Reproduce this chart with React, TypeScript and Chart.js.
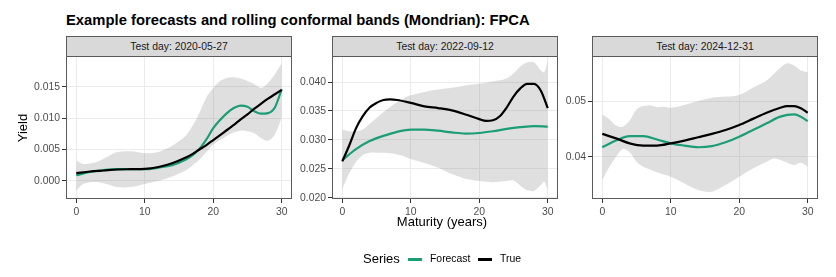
import React, { useEffect, useRef } from "react";
import { Chart, registerables } from "chart.js";

Chart.register(...registerables);

// ---------------- DATA ----------------
const chartTitle = "Example forecasts and rolling conformal bands (Mondrian): FPCA";
const panelTitles = ["Test day: 2020-05-27", "Test day: 2022-09-12", "Test day: 2024-12-31"];
const xTitle = "Maturity (years)";
const yTitle = "Yield";
const legendTitle = "Series";
const seriesNames = ["Forecast", "True"];

const xTicks = [0, 10, 20, 30];
const xTickLabels = ["0", "10", "20", "30"];

// Panel 1: 2020-05-27
const p1LineMat = [0, 2, 4, 6, 8, 10, 12, 14, 16, 17, 18, 19, 20, 21, 22, 23, 24, 25, 26, 27, 28, 29, 30];
const p1True = [0.00122, 0.00148, 0.00164, 0.0018, 0.00185, 0.0019, 0.0022, 0.0028, 0.0037, 0.0043, 0.005, 0.0057, 0.0065, 0.0073, 0.0081, 0.0089, 0.0098, 0.0106, 0.0115, 0.0123, 0.0131, 0.0138, 0.0145];
const p1Forecast = [0.0009, 0.0014, 0.0017, 0.00185, 0.00185, 0.00185, 0.0021, 0.0025, 0.0034, 0.0041, 0.0051, 0.0066, 0.0084, 0.0097, 0.0108, 0.0116, 0.012, 0.0118, 0.0111, 0.0107, 0.0108, 0.0117, 0.0146];
const p1BandMat = [0, 1, 3, 5, 6, 8, 10, 12, 14, 16, 17, 18, 19, 20, 21, 22, 23, 24, 25, 26, 27, 28, 29, 30];
const p1Upper = [0.0032, 0.0027, 0.003, 0.0041, 0.0046, 0.0047, 0.0044, 0.0046, 0.0056, 0.0072, 0.0088, 0.0109, 0.0133, 0.0148, 0.0159, 0.0164, 0.0165, 0.0163, 0.0159, 0.0154, 0.0148, 0.0156, 0.017, 0.0188];
const p1Lower = [-0.0016, -0.0005, -0.0002, -0.0007, -0.001, -0.001, -0.0005, 0.0, 0.0007, 0.0017, 0.0025, 0.0034, 0.0046, 0.0058, 0.0065, 0.0072, 0.0077, 0.008, 0.0079, 0.0076, 0.0068, 0.0064, 0.0074, 0.0101];
const p1YTicks = [0, 0.005, 0.01, 0.015];
const p1YTickLabels = ["0.000", "0.005", "0.010", "0.015"];
const p1YRange = [-0.0029, 0.0199];

// Panel 2: 2022-09-12
const p2TrueMat = [0, 1, 2, 3, 4, 5, 6, 7, 8, 10, 12, 14, 16, 18, 20, 21, 22, 23, 24, 25, 26, 27, 28, 29, 30];
const p2True = [0.0263, 0.029, 0.032, 0.0341, 0.0356, 0.0364, 0.0369, 0.037, 0.0369, 0.0364, 0.0358, 0.0355, 0.0351, 0.0344, 0.0336, 0.0333, 0.0334, 0.0341, 0.0356, 0.0375, 0.0389, 0.0397, 0.0397, 0.0385, 0.0355];
const p2ForecastMat = [0, 2, 4, 6, 8, 10, 12, 14, 16, 18, 20, 22, 24, 26, 28, 30];
const p2Forecast = [0.0265, 0.0284, 0.0298, 0.0307, 0.0314, 0.0318, 0.0318, 0.0316, 0.0313, 0.0311, 0.0312, 0.0315, 0.0319, 0.0322, 0.0324, 0.0323];
const p2BandMat = [0, 1, 2, 3, 4, 5, 6, 7, 8, 9, 10, 12, 14, 16, 18, 20, 22, 24, 25, 26, 27, 28, 29, 29.5, 30];
const p2Upper = [0.0318, 0.0315, 0.0315, 0.0318, 0.0328, 0.0338, 0.0348, 0.0357, 0.0365, 0.0372, 0.0377, 0.0383, 0.0387, 0.039, 0.0394, 0.0397, 0.0401, 0.0406, 0.0415, 0.0427, 0.0434, 0.0434, 0.042, 0.0417, 0.0436];
const p2Lower = [0.0215, 0.0242, 0.0262, 0.0274, 0.0278, 0.0278, 0.0278, 0.0277, 0.0275, 0.0272, 0.0267, 0.026, 0.0252, 0.0241, 0.0233, 0.0229, 0.0227, 0.0229, 0.023, 0.0221, 0.0213, 0.0212, 0.0222, 0.0228, 0.0213];
const p2YTicks = [0.02, 0.025, 0.03, 0.035, 0.04];
const p2YTickLabels = ["0.020", "0.025", "0.030", "0.035", "0.040"];
const p2YRange = [0.0198, 0.0445];

// Panel 3: 2024-12-31
const p3TrueMat = [0, 2, 4, 6, 8, 10, 12, 14, 16, 18, 20, 22, 24, 26, 27, 28, 29, 30];
const p3True = [0.0441, 0.0433, 0.0424, 0.042, 0.042, 0.0424, 0.0429, 0.0435, 0.0441, 0.0448, 0.0457, 0.0468, 0.0479, 0.0488, 0.0491, 0.0491, 0.0487, 0.0479];
const p3ForecastMat = [0, 2, 4, 6, 8, 10, 12, 14, 16, 18, 20, 22, 24, 26, 28, 29, 30];
const p3Forecast = [0.0417, 0.0429, 0.0437, 0.0437, 0.0431, 0.0424, 0.042, 0.0417, 0.0419, 0.0426, 0.0436, 0.0448, 0.046, 0.0472, 0.0476, 0.0472, 0.0464];
const p3BandMat = [0, 1, 2, 3, 4, 5, 6, 7, 8, 9, 10, 12, 14, 16, 18, 20, 22, 24, 25, 26, 27, 28, 29, 30];
const p3Upper = [0.0476, 0.0468, 0.0456, 0.0454, 0.0465, 0.0485, 0.0491, 0.0492, 0.0489, 0.049, 0.0488, 0.0493, 0.05, 0.0506, 0.0508, 0.0511, 0.0524, 0.0537, 0.0548, 0.056, 0.0568, 0.0564, 0.0555, 0.0552];
const p3Lower = [0.0358, 0.0381, 0.04, 0.0414, 0.0408, 0.0391, 0.0382, 0.0377, 0.0372, 0.0368, 0.0364, 0.0352, 0.034, 0.0337, 0.0349, 0.0364, 0.0379, 0.0391, 0.0397, 0.0394, 0.0389, 0.0385, 0.0389, 0.0382];
const p3YTicks = [0.04, 0.05];
const p3YTickLabels = ["0.04", "0.05"];
const p3YRange = [0.0324, 0.0581];

// ---------------- STYLE / LAYOUT ----------------
const FONT = '"Liberation Sans", Arial, Helvetica, sans-serif';
const GREEN = "#1B9E77";
const BLACK = "#000000";
const BAND = "rgba(140,140,140,0.28)";
const GRID = "#EBEBEB";
const AXIS_TEXT = "#4D4D4D";
const BORDER = "#5a5a5a";

const PANEL_LEFTS = [66, 332, 592];
const PANEL_W = 226;
const PANEL_TOP = 56;
const PANEL_H = 143;
const Y_AXIS_W = 44;
const X_AXIS_H = 24;
const PAD_TOP = 10;
const PAD_RIGHT = 6;

const panels = [
  { lm: p1LineMat, tv: p1True, fm: p1LineMat, fv: p1Forecast, bm: p1BandMat, up: p1Upper, lo: p1Lower, yt: p1YTicks, yl: p1YTickLabels, yr: p1YRange },
  { lm: p2TrueMat, tv: p2True, fm: p2ForecastMat, fv: p2Forecast, bm: p2BandMat, up: p2Upper, lo: p2Lower, yt: p2YTicks, yl: p2YTickLabels, yr: p2YRange },
  { lm: p3TrueMat, tv: p3True, fm: p3ForecastMat, fv: p3Forecast, bm: p3BandMat, up: p3Upper, lo: p3Lower, yt: p3YTicks, yl: p3YTickLabels, yr: p3YRange },
];

const zip = (xs: number[], ys: number[]) => xs.map((x, i) => ({ x, y: ys[i] }));

const borderPlugin = {
  id: "panelBorder",
  afterDraw(chart: any) {
    const { ctx, chartArea: a } = chart;
    ctx.save();
    ctx.strokeStyle = BORDER;
    ctx.lineWidth = 1;
    ctx.strokeRect(Math.round(a.left) + 0.5, Math.round(a.top) + 0.5, Math.round(a.right - a.left) - 1, Math.round(a.bottom - a.top) - 1);
    ctx.restore();
  },
};

function Panel({ idx }: { idx: number }) {
  const ref = useRef<HTMLCanvasElement>(null);
  useEffect(() => {
    const p = panels[idx];
    const tickFont = { family: FONT, size: 10.4 };
    const chart = new Chart(ref.current as HTMLCanvasElement, {
      type: "line",
      data: {
        datasets: [
          { label: seriesNames[1], data: zip(p.lm, p.tv), borderColor: BLACK, borderWidth: 2.2, pointRadius: 0, cubicInterpolationMode: "monotone", fill: false },
          { label: seriesNames[0], data: zip(p.fm, p.fv), borderColor: GREEN, borderWidth: 2.2, pointRadius: 0, cubicInterpolationMode: "monotone", fill: false },
          { label: "upper", data: zip(p.bm, p.up), borderColor: "rgba(0,0,0,0)", borderWidth: 0, pointRadius: 0, tension: 0.3, fill: false },
          { label: "lower", data: zip(p.bm, p.lo), borderColor: "rgba(0,0,0,0)", borderWidth: 0, pointRadius: 0, tension: 0.3, fill: "-1", backgroundColor: BAND },
        ],
      } as any,
      options: {
        animation: false,
        responsive: false,
        maintainAspectRatio: false,
        layout: { padding: { top: PAD_TOP, right: PAD_RIGHT, left: 0, bottom: 0 } },
        plugins: { legend: { display: false }, tooltip: { enabled: false }, title: { display: false } },
        scales: {
          x: {
            type: "linear",
            min: -1.5,
            max: 31.5,
            afterBuildTicks: (s: any) => { s.ticks = xTicks.map((v) => ({ value: v })); },
            afterFit: (s: any) => { s.height = X_AXIS_H; },
            grid: { color: GRID, lineWidth: 1, drawTicks: true, tickLength: 4, tickColor: "#333333" },
            border: { display: false },
            ticks: { font: tickFont, color: AXIS_TEXT, padding: 3, maxRotation: 0, autoSkip: false, callback: (_v: any, i: number) => xTickLabels[i] },
          },
          y: {
            type: "linear",
            min: p.yr[0],
            max: p.yr[1],
            afterBuildTicks: (s: any) => { s.ticks = p.yt.map((v) => ({ value: v })); },
            afterFit: (s: any) => { s.width = Y_AXIS_W; },
            grid: { color: GRID, lineWidth: 1, drawTicks: true, tickLength: 4, tickColor: "#333333" },
            border: { display: false },
            ticks: { font: tickFont, color: AXIS_TEXT, padding: 2, autoSkip: false, callback: (_v: any, i: number) => p.yl[i] },
          },
        },
      } as any,
      plugins: [borderPlugin],
    });
    return () => chart.destroy();
  }, [idx]);

  const left = PANEL_LEFTS[idx] - Y_AXIS_W;
  const w = Y_AXIS_W + PANEL_W + PAD_RIGHT;
  const h = PAD_TOP + PANEL_H + X_AXIS_H;
  return (
    <canvas
      ref={ref}
      width={w}
      height={h}
      style={{ position: "absolute", left, top: PANEL_TOP - PAD_TOP, width: w, height: h }}
    />
  );
}

export default function App() {
  const text: React.CSSProperties = { position: "absolute", fontFamily: FONT, whiteSpace: "nowrap" };
  return (
    <div style={{ position: "absolute", left: 0, top: 0, width: 836, height: 277, background: "#fff", overflow: "hidden" }}>
      <div style={{ ...text, left: 66, top: 13, fontSize: 14.8, lineHeight: "15px", fontWeight: 700, color: "#000" }}>{chartTitle}</div>
      {panelTitles.map((t, i) => (
        <div
          key={t}
          style={{
            ...text,
            left: PANEL_LEFTS[i],
            top: 36,
            width: PANEL_W,
            height: 21,
            boxSizing: "border-box",
            background: "#D9D9D9",
            border: `1px solid ${BORDER}`,
            display: "flex",
            alignItems: "center",
            justifyContent: "center",
            fontSize: 10.4,
            color: "#1A1A1A",
          }}
        >
          {t}
        </div>
      ))}
      {[0, 1, 2].map((i) => (
        <Panel key={i} idx={i} />
      ))}
      <div style={{ ...text, left: -7, top: 121, width: 60, height: 14, fontSize: 13, lineHeight: "14px", textAlign: "center", fontWeight: 400, color: "#000", transform: "rotate(-90deg)" }}>{yTitle}</div>
      <div style={{ ...text, left: 342, top: 215, width: 200, height: 14, fontSize: 13, lineHeight: "14px", textAlign: "center", color: "#000" }}>{xTitle}</div>
      <div style={{ ...text, left: 363, top: 252, fontSize: 13, lineHeight: "14px", color: "#000" }}>{legendTitle}</div>
      <div style={{ position: "absolute", left: 408, top: 258, width: 14, height: 2.5, background: GREEN }} />
      <div style={{ ...text, left: 430, top: 253, fontSize: 10.4, lineHeight: "12px", color: "#000" }}>{seriesNames[0]}</div>
      <div style={{ position: "absolute", left: 478, top: 258, width: 14, height: 2.5, background: BLACK }} />
      <div style={{ ...text, left: 500, top: 253, fontSize: 10.4, lineHeight: "12px", color: "#000" }}>{seriesNames[1]}</div>
    </div>
  );
}
